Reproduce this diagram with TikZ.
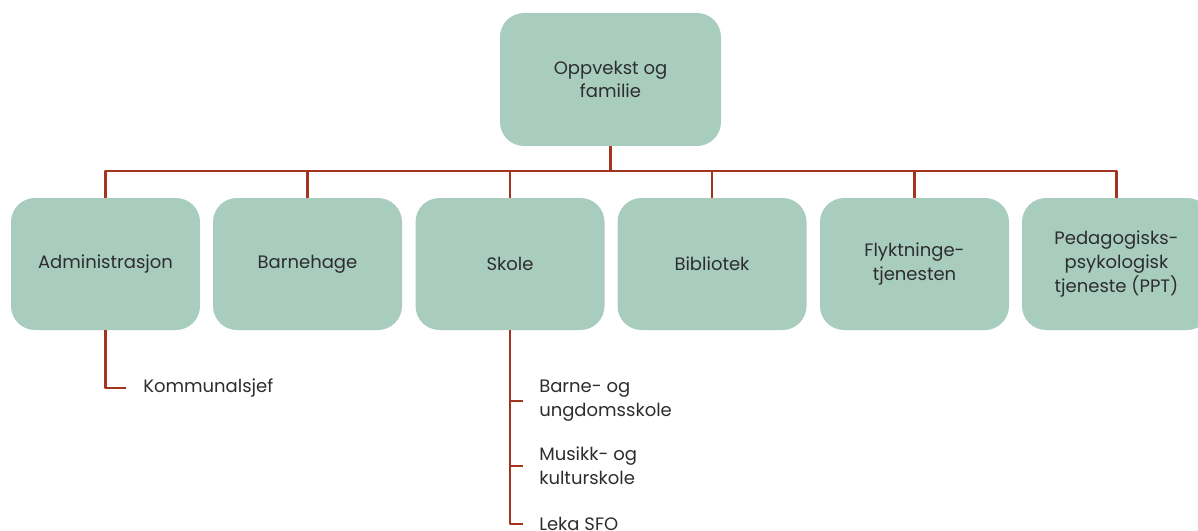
\documentclass[tikz,border=0pt]{standalone}
\usepackage{fontspec}
\setmainfont{Poppins}
\usetikzlibrary{calc}
\definecolor{boxfill}{RGB}{168,205,191}
\definecolor{linkred}{RGB}{163,52,32}
\definecolor{txt}{RGB}{45,45,45}
\begin{document}
\begin{tikzpicture}[x=0.75pt,y=-0.75pt,font=\fontsize{13.5}{17.8}\selectfont,text=txt,line join=round,
	unit/.style={fill=boxfill,rounded corners=18pt,minimum width=141.75pt,minimum height=99pt,align=center,inner sep=2pt},
	sub/.style={anchor=west,align=left,inner sep=0pt},
	link/.style={draw=linkred,line width=1.6pt}]
	\useasboundingbox (0,0) rectangle (1198,531);
	\node[unit,minimum width=165.75pt,minimum height=99.75pt] (top) at (610.5,79.5) {Oppvekst og\\familie};
	\node[unit] (adm) at (105.5,264) {Administrasjon};
	\node[unit] (bhg) at (307.5,264) {Barnehage};
	\node[unit] (sko) at (510,264) {Skole};
	\node[unit] (bib) at (712,264) {Bibliotek};
	\node[unit] (fly) at (914.5,264) {Flyktninge-\\tjenesten};
	\node[unit] (ppt) at (1116.5,264) {Pedagogisks-\\psykologisk\\tjeneste (PPT)};
	\coordinate (bus) at (610.5,171);
	\draw[link] (top.south)--(bus);
	\foreach \c in {adm,bhg,sko,bib,fly,ppt} \draw[link] (bus) -| (\c.north);
	% underenheter
	\node[sub] (kom) at (143,388) {Kommunalsjef};
	\node[sub] (bus1) at (539,401) {Barne- og\\ungdomsskole};
	\node[sub] (mus) at (539,466) {Musikk- og\\kulturskole};
	\node[sub] (sfo) at (539,524) {Leka SFO};
	\draw[link] (adm.south) |- ($(kom.west)+(-17,0)$);
	\foreach \s in {bus1,mus,sfo} \draw[link] (sko.south) |- ($(\s.west)+(-16,0)$);
\end{tikzpicture}
\end{document}
